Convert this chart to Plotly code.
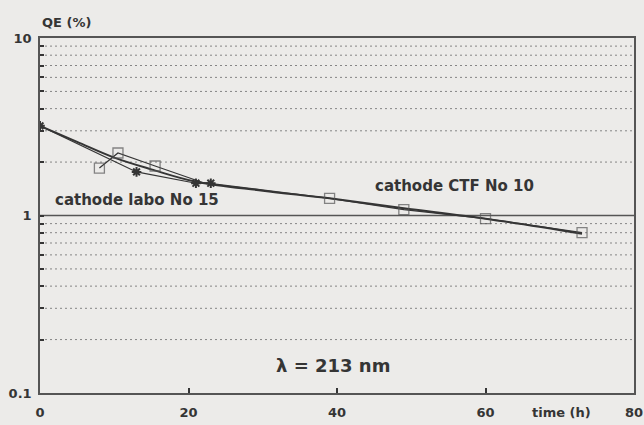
import plotly.graph_objects as go
import math

# Data
fit_t = [0, 5, 10, 15, 21, 30, 39, 49, 60, 73]
fit_qe = [3.2, 2.6, 2.12, 1.82, 1.55, 1.38, 1.25, 1.1, 0.96, 0.79]

labo_t = [0, 13, 21, 23]
labo_qe = [3.2, 1.76, 1.52, 1.52]

ctf_t = [8, 10.5, 15.5, 22, 39, 49, 60, 73]
ctf_qe = [1.85, 2.25, 1.9, 1.53, 1.25, 1.08, 0.96, 0.8]

y_grid = [0.2, 0.3, 0.4, 0.5, 0.6, 0.7, 0.8, 0.9, 2, 3, 4, 5, 6, 7, 8, 9]
y_labels_vals = [0.1, 1, 10]
y_labels_text = ["0.1", "1", "10"]
x_tick_vals = [0, 20, 40, 60, 80]
x_tick_text = ["0", "20", "40", "60", "80"]

ink = "#353535"
bg = "#ecebe9"
fam = "DejaVu Sans, Liberation Sans, sans-serif"

fig = go.Figure()
fig.add_trace(go.Scatter(x=fit_t, y=fit_qe, mode="lines",
                         line=dict(color=ink, width=2, shape="spline"),
                         showlegend=False, hoverinfo="skip"))
fig.add_trace(go.Scatter(x=labo_t, y=labo_qe, mode="lines+markers",
                         line=dict(color=ink, width=1.2),
                         marker=dict(symbol="asterisk-open", size=8,
                                     line=dict(color=ink, width=2)),
                         showlegend=False))
fig.add_trace(go.Scatter(x=ctf_t, y=ctf_qe, mode="lines+markers",
                         line=dict(color=ink, width=1.2),
                         marker=dict(symbol="square-open",
                                     size=[10, 10, 10, 0, 10, 10, 10, 10],
                                     color="#555", line=dict(color="#555", width=1.3)),
                         showlegend=False))

# dotted minor grid lines
for v in y_grid:
    fig.add_shape(type="line", xref="paper", yref="y", x0=0, x1=1,
                  y0=v, y1=v, layer="below",
                  line=dict(color="#858585", width=1, dash="2px,3px"))
# solid line at 1
fig.add_shape(type="line", xref="paper", yref="y", x0=0, x1=1, y0=1, y1=1,
              line=dict(color="#555", width=1.5), layer="below")

fig.update_layout(
    width=644, height=425,
    margin=dict(l=40, r=10, t=38, b=32),
    paper_bgcolor=bg, plot_bgcolor=bg,
    font=dict(family=fam, color=ink),
    xaxis=dict(range=[0, 80], tickvals=x_tick_vals, ticktext=x_tick_text,
               automargin=False,
               ticks="inside", ticklen=5, tickcolor=ink, tickwidth=1.5,
               showgrid=False, zeroline=False, showline=True,
               linecolor="#555", linewidth=1.5, mirror=True,
               tickfont=dict(family=fam, size=13, color=ink, weight="bold"),
               ticklabelstandoff=7),
    yaxis=dict(type="log", range=[-1, 1], tickvals=y_labels_vals + y_grid,
               ticktext=y_labels_text + [""] * len(y_grid),
               automargin=False,
               ticks="inside", ticklen=4, tickcolor=ink, tickwidth=2,
               showgrid=False, zeroline=False, showline=True,
               linecolor="#555", linewidth=1.5, mirror=True,
               tickfont=dict(family=fam, size=13, color=ink, weight="bold"),
               ticklabelstandoff=4),
    annotations=[
        dict(text="<b>QE (%)</b>", xref="paper", yref="paper", x=0.0, y=1.0,
             xanchor="left", yanchor="bottom", yshift=6, showarrow=False,
             font=dict(family=fam, size=13, color=ink)),
        dict(text="<b>time (h)</b>", xref="paper", yref="paper", x=0.825, y=0,
             xanchor="left", yanchor="top", yshift=-10, showarrow=False,
             font=dict(family=fam, size=13, color=ink)),
        dict(text="<b>cathode labo No 15</b>", xref="x", yref="y", x=13,
             y=math.log10(1.22), showarrow=False,
             font=dict(family=fam, size=15, color=ink)),
        dict(text="<b>cathode CTF No 10</b>", xref="x", yref="y", x=55.8,
             y=math.log10(1.47), showarrow=False,
             font=dict(family=fam, size=15, color=ink)),
        dict(text="<b>λ = 213 nm</b>", xref="x", yref="y", x=39.5,
             y=math.log10(0.143), showarrow=False,
             font=dict(family=fam, size=18, color=ink)),
    ],
)

fig.write_html("out.html")
